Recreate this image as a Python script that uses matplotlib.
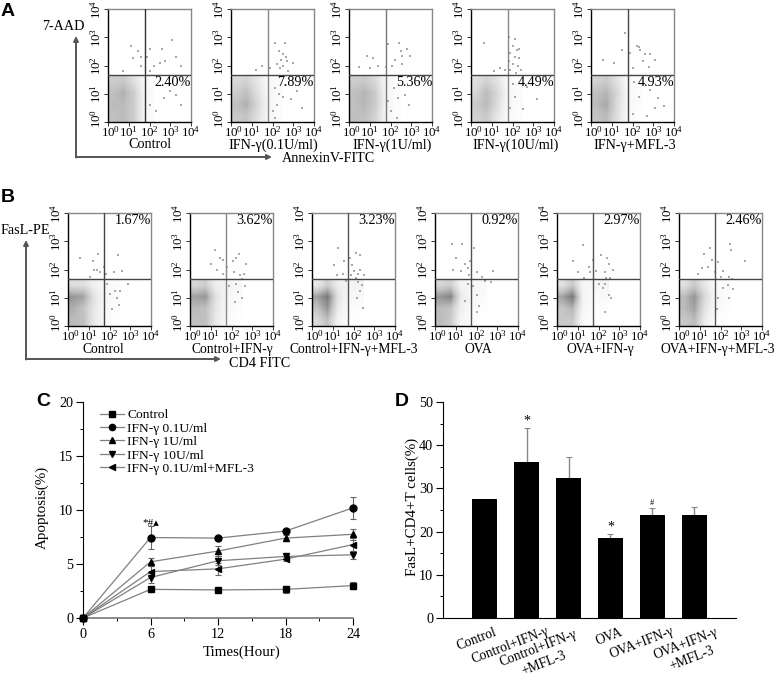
import numpy as np
import matplotlib
matplotlib.use('Agg')
import matplotlib.pyplot as plt
from matplotlib.transforms import ScaledTranslation

plt.rcParams['font.family'] = ['Liberation Serif', 'DejaVu Sans']
plt.rcParams['mathtext.default'] = 'regular'

W, H = 778., 678.

# ---- flow panels: label, percent, gate colour, darkness of the dense
# lower-left population (rows bottom to top, cols left to right), sparse dots
labels_a = ['Control', 'IFN-γ(0.1U/ml)', 'IFN-γ(1U/ml)', 'IFN-γ(10U/ml)', 'IFN-γ+MFL-3']
percent_a = ['2.40%', '7.89%', '5.36%', '4.49%', '4.93%']
left_a = [108, 231, 349, 471, 591]
label_x_a = [150, 273, 392, 516, 635]
vgate_a = ['#333333', '#888888', '#777777', '#888888', '#444444']
density_a = [
  [[.36, .38, .3, .1, .01], [.38, .38, .3, .1, .01], [.36, .42, .3, .1, .01], [.3, .32, .22, .07, .01]],
  [[.32, .34, .22, .08, .02], [.36, .42, .26, .1, .03], [.3, .36, .22, .08, .03], [.25, .28, .18, .06, .03]],
  [[.36, .36, .28, .1, .02], [.36, .4, .32, .1, .02], [.36, .4, .32, .1, .02], [.3, .32, .25, .08, .02]],
  [[.28, .32, .18, .05, .02], [.32, .38, .24, .06, .03], [.26, .38, .26, .08, .03], [.22, .28, .2, .06, .02]],
  [[.34, .38, .22, .06, .01], [.38, .44, .24, .07, .02], [.36, .4, .26, .07, .02], [.28, .32, .2, .06, .02]],
]
dots_a = [
  [(1.1, 2.7), (1.45, 2.5), (1.6, 2.3), (1.2, 2.25), (1.9, 2.3), (2.0, 2.6), (3.1, 2.9), (2.6, 2.6), (2.5, 2.1), (2.75, 2.15),
   (3.3, 2.3), (2.2, 2.0), (3.5, 2.0), (2.0, 1.8), (.7, 1.8), (3.0, 1.1), (2.7, .85), (3.3, .95), (2.0, .6), (2.3, .4), (3.5, .6), (1.6, 2.0)],
  [(2.1, 2.8), (2.6, 2.8), (2.3, 2.5), (2.5, 2.4), (2.65, 2.3), (2.4, 2.2), (2.7, 2.15), (2.2, 2.05), (2.5, 2.0), (2.35, 1.9), (2.75, 1.8),
   (1.5, 2.0), (1.2, 1.85), (1.9, 1.9), (3.0, 2.1), (2.1, 1.2), (2.3, 1.0), (2.5, .9), (2.9, .8), (2.2, .6), (2.0, .4), (3.2, 1.1), (3.4, .5), (2.6, 1.3), (2.1, .15)],
  [(1.9, 2.75), (2.4, 2.8), (2.8, 2.6), (2.55, 2.35), (2.2, 2.2), (2.55, 2.05), (2.05, 2.0), (1.8, 1.95), (.85, 2.35), (.5, 1.95), (1.15, 2.25), (1.4, 2.0),
   (1.0, 1.9), (2.15, 1.2), (2.7, .95), (2.35, .85), (2.9, .6), (2.0, .4), (2.3, .15), (1.9, .75), (2.5, 2.5), (2.95, 2.35)],
  [(1.85, 3.0), (2.1, 2.95), (2.0, 2.7), (2.2, 2.55), (1.9, 2.45), (2.1, 2.3), (2.3, 2.25), (1.85, 2.15), (2.0, 2.05), (2.25, 2.0), (2.4, 1.85), (1.9, 1.85), (2.15, 1.75),
   (.65, 2.8), (1.4, 1.9), (1.65, 1.85), (1.1, 1.8), (2.0, 1.35), (2.1, .9), (1.9, .5), (2.5, .45), (3.2, .8), (2.7, 1.25), (2.3, 2.6)],
  [(2.2, 2.7), (2.35, 2.55), (1.65, 3.15), (2.85, 2.4), (3.1, 2.2), (1.9, 2.45), (2.5, 2.15), (2.8, 1.95), (.6, 2.2), (1.1, 2.1), (1.5, 2.55), (2.0, 1.9),
   (2.3, 2.65), (2.85, 1.15), (3.25, .85), (3.1, .5), (3.5, .55), (2.3, .9), (2.0, .3), (2.7, .2), (2.05, 1.4), (2.6, 2.4)],
]

labels_b = ['Control', 'Control+IFN-γ', 'Control+IFN-γ+MFL-3', 'OVA', 'OVA+IFN-γ', 'OVA+IFN-γ+MFL-3']
percent_b = ['1.67%', '3.62%', '3.23%', '0.92%', '2.97%', '2.46%']
left_b = [68, 190, 312, 435, 557, 679]
label_x_b = [103, 232, 354, 478, 600, 718]
vgate_b = ['#444444', '#888888', '#555555', '#555555', '#555555', '#555555']
density_b = [
  [[.38, .36, .16, .06, .01], [.42, .34, .18, .06, .03], [.5, .46, .2, .08, .03], [.22, .22, .12, .07, .03]],
  [[.36, .36, .16, .06, .01], [.38, .36, .18, .07, .02], [.46, .5, .2, .09, .03], [.26, .3, .13, .1, .06]],
  [[.24, .36, .1, .02, .0], [.34, .5, .16, .04, .02], [.46, .6, .2, .06, .05], [.16, .3, .14, .1, .1]],
  [[.38, .32, .08, .03, .0], [.38, .34, .12, .05, .02], [.5, .56, .16, .07, .03], [.26, .3, .1, .06, .05]],
  [[.32, .32, .05, .02, .0], [.34, .4, .08, .02, .02], [.46, .6, .1, .03, .05], [.2, .32, .08, .06, .1]],
  [[.32, .38, .14, .02, .0], [.38, .46, .2, .05, .02], [.38, .5, .25, .07, .03], [.2, .32, .18, .05, .03]],
]
dots_b = [
  [(.6, 2.4), (1.2, 2.3), (1.45, 2.55), (2.4, 2.5), (1.55, 1.9), (1.85, 1.85), (2.2, 1.9), (1.05, 1.75), (1.9, 1.5), (2.25, 1.25), (2.5, 1.25), (2.1, .6), (2.35, 1.0),
   (2.9, 1.5), (1.4, 2.0), (1.75, 2.1), (2.6, 1.95), (1.25, 2.0), (2.0, 1.15), (2.45, .75)],
  [(1.2, 2.7), (1.45, 2.4), (1.0, 2.2), (1.8, 2.1), (2.2, 2.4), (2.35, 2.55), (2.1, 1.9), (2.4, 1.8), (2.5, 1.65), (1.6, 1.85), (2.2, 1.5), (2.65, 1.4), (2.3, 1.2), (2.5, 1.0),
   (1.9, 1.4), (1.3, 2.0), (2.7, 2.2), (2.05, 2.3), (2.6, 1.85), (2.15, .85), (1.6, 2.35)],
  [(1.25, 2.75), (1.55, 2.3), (1.05, 2.15), (1.85, 2.4), (2.0, 1.95), (2.2, 1.85), (2.3, 2.0), (1.9, 1.8), (1.2, 1.8), (1.5, 1.85), (2.2, 1.55), (2.4, 1.45), (2.3, 1.25), (2.15, 1.0),
   (2.45, .65), (1.95, 2.15), (2.3, 2.5), (2.1, 2.6), (2.1, 1.7), (1.65, 1.6), (2.5, 1.8)],
  [(.8, 2.9), (1.3, 2.9), (1.9, 2.75), (1.0, 2.4), (1.45, 2.2), (1.6, 2.05), (.85, 2.0), (1.25, 1.95), (1.65, 1.8), (2.0, 1.9), (2.25, 1.75), (2.7, 1.55), (2.8, 1.95), (1.7, 2.3),
   (1.85, 1.4), (2.0, 1.1), (2.1, .7), (2.0, .5), (2.4, 1.6), (1.6, 1.5), (1.45, .9)],
  [(1.25, 2.85), (.75, 2.3), (1.55, 2.1), (1.75, 2.35), (2.1, 2.5), (2.4, 2.4), (2.5, 2.2), (1.6, 1.9), (1.9, 1.95), (2.3, 1.9), (2.55, 1.7), (2.3, 1.5), (2.2, 1.35), (2.5, 1.1), (2.3, .5), (2.6, 1.0),
   (1.3, 1.7), (1.0, 1.9), (2.0, 1.5), (2.35, 1.7), (2.7, 2.0)],
  [(1.2, 2.55), (1.5, 2.75), (2.45, 2.9), (2.5, 2.7), (3.2, 2.3), (1.1, 2.05), (1.4, 2.1), (1.9, 2.25), (2.1, 1.95), (2.4, 1.75), (2.55, 1.65), (2.35, 1.45), (2.1, 1.35), (2.4, 1.0), (1.85, .6),
   (1.9, 1.0), (1.6, 2.35), (.9, 1.85), (2.0, 1.75), (2.6, 1.3), (1.75, 1.9)],
]

# ---- panel C
hours = [0, 6, 12, 18, 24]
series_names = ['Control', 'IFN-γ 0.1U/ml', 'IFN-γ 1U/ml', 'IFN-γ 10U/ml', 'IFN-γ 0.1U/ml+MFL-3']
series_markers = ['s', 'o', '^', 'v', '<']
control = [0, 2.65, 2.6, 2.65, 3.0]
ifn_01 = [0, 7.45, 7.4, 8.05, 10.2]
ifn_1 = [0, 5.2, 6.2, 7.4, 7.75]
ifn_10 = [0, 3.75, 5.3, 5.7, 5.85]
ifn_mfl = [0, 4.3, 4.55, 5.45, 6.8]
control_err = [0, .2, .15, .35, .35]
ifn_01_err = [0, 1.1, .2, .2, 1.0]
ifn_1_err = [0, .4, .5, .3, .5]
ifn_10_err = [0, .5, .4, .2, .4]
ifn_mfl_err = [0, .5, .55, .2, .6]

# ---- panel D
groups = ['Control', 'Control+IFN-γ', 'Control+IFN-γ\n+MFL-3', 'OVA', 'OVA+IFN-γ', 'OVA+IFN-γ\n+MFL-3']
fasl = [27.5, 36.1, 32.3, 18.6, 23.8, 23.8]
fasl_err = [0, 7.8, 4.9, 0.8, 1.6, 1.8]
fasl_marks = ['', '*', '', '*', '#', '']


def make_axes(l, t, r, b):
  return fig.add_axes([l / W, 1 - b / H, (r - l) / W, (b - t) / H])


def label(x, y, s, **kw):
  kw.setdefault('ha', 'center')
  kw.setdefault('va', 'center')
  kw.setdefault('fontsize', 10.2)
  fig.text(x / W, 1 - y / H, s, **kw)


def flow_panel(l, t, pct, gate, vcolor, density, dots, pct_y):
  ax = make_axes(l, t, l + 83, t + 113)
  ax.imshow(density, extent=(0, 2.5, 0, gate[1]), origin='lower', cmap='Greys', vmin=0, vmax=1,
            interpolation='bilinear', aspect='auto', zorder=1)
  ax.scatter([d[0] for d in dots], [d[1] for d in dots], s=1.1, c='#a8a8a8', marker='s', linewidths=0, zorder=2)
  ax.axvline(gate[0], color=vcolor, lw=1, zorder=3)
  ax.axhline(gate[1], color='#444444', lw=1, zorder=3)
  ax.set_xlim(0, 4)
  ax.set_ylim(0, 4)
  ticks = [0, 1, 2, 3, 4]
  names = ['$10^{%d}$' % i for i in ticks]
  ax.set_xticks(ticks)
  ax.set_xticklabels(names, fontsize=9.3)
  ax.set_yticks(ticks)
  ax.set_yticklabels(names, fontsize=9.3, rotation=90, va='center')
  ax.tick_params(length=3, width=.7, color='#333333')
  ax.tick_params(axis='x', pad=-1)
  ax.tick_params(axis='y', pad=0)
  # the first labels sit off their ticks in the original
  first_x = ax.get_xticklabels()[0]
  first_x.set_transform(first_x.get_transform() + ScaledTranslation(3 / 100, 0, fig.dpi_scale_trans))
  first_y = ax.get_yticklabels()[0]
  first_y.set_transform(first_y.get_transform() + ScaledTranslation(0, 4 / 100, fig.dpi_scale_trans))
  for side in ['top', 'right']:
    ax.spines[side].set_color('#888888')
  for side in ax.spines:
    ax.spines[side].set_linewidth(1)
  label(l + 83, pct_y, pct, ha='right', zorder=5)
  return ax


def arrows(x, top, y, right):
  ax_full.annotate('', xy=(x, top), xytext=(x, y + .5),
                   arrowprops=dict(arrowstyle='-|>', color='#555555', lw=1.4, mutation_scale=7, shrinkA=0, shrinkB=0))
  ax_full.annotate('', xy=(right, y), xytext=(x, y),
                   arrowprops=dict(arrowstyle='-|>', color='#555555', lw=1.4, mutation_scale=7, shrinkA=0, shrinkB=0))


fig = plt.figure(figsize=(W / 100, H / 100), dpi=100)

ax_full = fig.add_axes([0, 0, 1, 1])
ax_full.set_xlim(0, W)
ax_full.set_ylim(H, 0)
ax_full.axis('off')

for i in range(5):
  flow_panel(left_a[i], 9, percent_a[i], (1.8, 1.66), vgate_a[i], density_a[i], dots_a[i], 82)
  label(label_x_a[i], 145, labels_a[i])
for i in range(6):
  flow_panel(left_b[i], 213, percent_b[i], (1.72, 1.66), vgate_b[i], density_b[i], dots_b[i], 220)
  label(label_x_b[i], 350, labels_b[i], fontsize=9.8)

arrows(76, 36, 157, 272)
arrows(26, 240, 359, 221)
label(63, 26, '7-AAD')
label(328, 159, 'AnnexinV-FITC')
label(25, 231, 'FasL-PE')
label(260, 363, 'CD4 FITC')

for x, y, s in [(8, 11, 'A'), (8, 198, 'B'), (43, 402, 'C'), (402, 402, 'D')]:
  label(x, y, s, family='Liberation Sans', fontweight='bold', fontsize=14)

# panel C
ax = make_axes(83, 402, 353, 618)
all_series = [control, ifn_01, ifn_1, ifn_10, ifn_mfl]
all_err = [control_err, ifn_01_err, ifn_1_err, ifn_10_err, ifn_mfl_err]
for vals, errs, mk, nm in zip(all_series, all_err, series_markers, series_names):
  eb = ax.errorbar(hours[1:], vals[1:], yerr=errs[1:], fmt='none', ecolor='#666666', elinewidth=.8, capsize=2, capthick=.8, zorder=2)
  for art in list(eb.lines[1]) + list(eb.lines[2]):
    art.set_clip_on(False)
  ax.plot(hours, vals, color='#808080', lw=.9, marker=mk, ms=5, mfc='black', mec='black', label=nm, clip_on=False, zorder=3)
ax.set_xlim(0, 24)
ax.set_ylim(0, 20)
ax.set_xticks([0, 6, 12, 18, 24])
ax.set_xticks([3, 9, 15, 21], minor=True)
ax.set_yticks([0, 5, 10, 15, 20])
ax.set_yticks([2.5, 7.5, 12.5, 17.5], minor=True)
ax.tick_params(which='major', length=5, width=.8, labelsize=10.2, pad=2)
ax.tick_params(which='minor', length=2.5, width=.7)
ax.spines['top'].set_visible(False)
ax.spines['right'].set_visible(False)
ax.spines['bottom'].set_color('#777777')
ax.spines['bottom'].set_linewidth(1.2)
ax.text(6, 8.75, '*#▴', ha='center', va='center', fontsize=8)
leg = ax.legend(loc='upper left', bbox_to_anchor=(17 / 270, 1 - 7 / 216), frameon=False, fontsize=9.7, labelspacing=0.07,
                handlelength=1.78, handletextpad=.25, borderpad=0, borderaxespad=0, numpoints=1, markerscale=.9)
label(42, 507, 'Apoptosis(%)', rotation=90, fontsize=10.8)
label(242, 652, 'Times(Hour)', fontsize=10.8)

# panel D
ax = make_axes(443, 402, 736, 618)
pos = np.arange(1, 7)
ax.bar(pos, fasl, width=.6, color='black', zorder=3)
ax.errorbar(pos[1:], fasl[1:], yerr=[[0] * 5, fasl_err[1:]], fmt='none', ecolor='#888888', elinewidth=1, capsize=2, capthick=.8, zorder=2)
for x, v, e, m in zip(pos, fasl, fasl_err, fasl_marks):
  if m:
    ax.text(x, v + e + .2, m, ha='center', va='bottom', fontsize=10 if m == '*' else 6)
ax.set_xlim(0, 7)
ax.set_ylim(0, 50)
ax.set_xticks([])
ax.set_yticks([0, 10, 20, 30, 40, 50])
ax.set_yticks([5, 15, 25, 35, 45], minor=True)
ax.tick_params(which='major', length=5, width=.8, labelsize=10.2, pad=2)
ax.tick_params(which='minor', length=2.5, width=.7)
ax.spines['top'].set_visible(False)
ax.spines['right'].set_visible(False)
label(412, 507, 'FasL+CD4+T cells(%)', rotation=90, fontsize=10.8)
group_x = [477, 510, 541, 609, 642, 689]
group_y = [639, 645, 656, 637, 643, 651]
for x, y, g in zip(group_x, group_y, groups):
  label(x, y, g, rotation=21, fontsize=9.8, linespacing=1.25)

fig.savefig('out.png', dpi=100)
